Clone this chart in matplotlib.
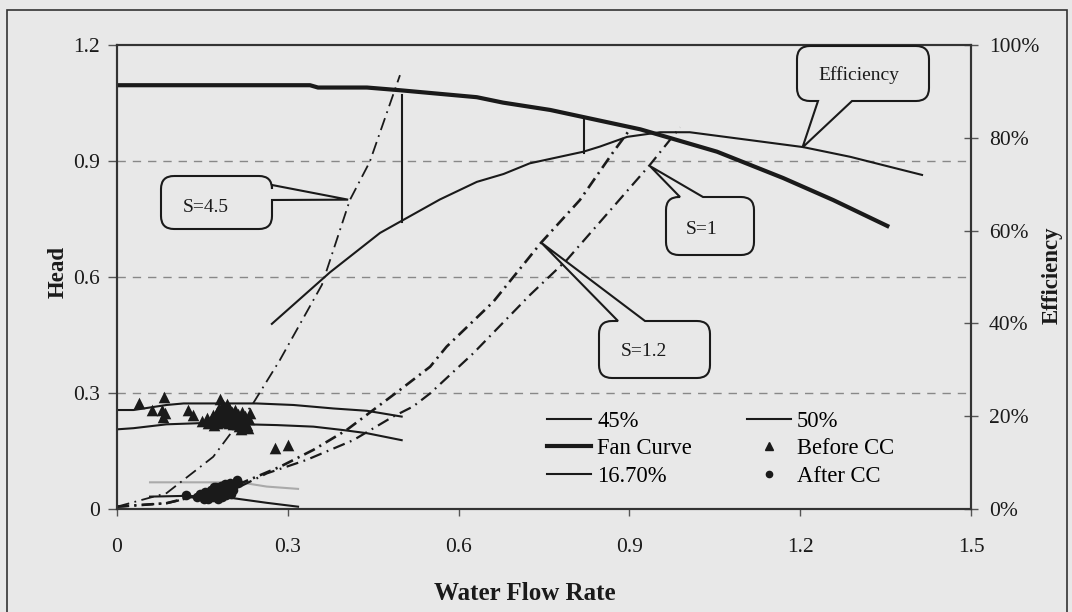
import matplotlib
matplotlib.use("Agg")
import matplotlib.pyplot as plt
from matplotlib.path import Path
from matplotlib.patches import PathPatch, Rectangle
from matplotlib.lines import Line2D
from matplotlib.ticker import FixedLocator, FixedFormatter

plt.rcParams['font.family'] = ['Liberation Serif', 'DejaVu Serif']

# ---- data ----
fan_x = [0, 0.339, 0.353, 0.439, 0.497, 0.632, 0.678, 0.761, 0.919, 0.954, 1.054, 1.170, 1.258, 1.353]
fan_y = [1.096, 1.096, 1.090, 1.090, 1.083, 1.065, 1.051, 1.032, 0.982, 0.967, 0.924, 0.856, 0.799, 0.732]

eff_x = [0.272, 0.374, 0.462, 0.497, 0.567, 0.632, 0.679, 0.725, 0.819, 0.848, 0.896, 0.954, 1.006, 1.112, 1.205, 1.288, 1.346, 1.414]
eff_y = [0.399, 0.51, 0.595, 0.619, 0.667, 0.705, 0.722, 0.745, 0.77, 0.781, 0.802, 0.812, 0.812, 0.795, 0.78, 0.759, 0.741, 0.72]

s45_x = [0, 0.087, 0.169, 0.239, 0.286, 0.36, 0.409, 0.444, 0.497]
s45_y = [0.006, 0.041, 0.135, 0.273, 0.385, 0.58, 0.799, 0.898, 1.122]

s12_x = [0, 0.087, 0.204, 0.286, 0.345, 0.403, 0.497, 0.550, 0.579, 0.661, 0.745, 0.813, 0.872, 0.898]
s12_y = [0.006, 0.015, 0.058, 0.109, 0.153, 0.204, 0.308, 0.368, 0.420, 0.536, 0.689, 0.799, 0.924, 0.976]

s1_x = [0, 0.087, 0.216, 0.263, 0.333, 0.415, 0.485, 0.520, 0.550, 0.626, 0.725, 0.790, 0.872, 0.936, 0.989]
s1_y = [0.006, 0.015, 0.058, 0.092, 0.127, 0.178, 0.239, 0.265, 0.299, 0.403, 0.553, 0.644, 0.782, 0.890, 0.987]

p45_x = [0, 0.029, 0.087, 0.117, 0.245, 0.31, 0.38, 0.439, 0.5]
p45_y = [0.256, 0.256, 0.269, 0.273, 0.273, 0.269, 0.26, 0.254, 0.239]

p50_x = [0, 0.029, 0.087, 0.146, 0.281, 0.345, 0.398, 0.439, 0.5]
p50_y = [0.206, 0.209, 0.219, 0.222, 0.217, 0.213, 0.204, 0.196, 0.178]

p167_x = [0.058, 0.122, 0.204, 0.263, 0.318]
p167_y = [0.032, 0.034, 0.028, 0.016, 0.006]

grey_x = [0.058, 0.216, 0.263, 0.318]
grey_y = [0.069, 0.069, 0.058, 0.052]

vert1_x = [0.5, 0.5]
vert1_y = [1.071, 0.743]
vert2_x = [0.82, 0.82]
vert2_y = [1.010, 0.920]

before_x = [0.039, 0.083, 0.061, 0.079, 0.084, 0.080, 0.125, 0.134, 0.181, 0.278, 0.301,
            0.150, 0.158, 0.165, 0.168, 0.172, 0.175, 0.178, 0.180, 0.182, 0.185, 0.186, 0.188,
            0.190, 0.192, 0.195, 0.197, 0.199, 0.202, 0.204, 0.206, 0.208, 0.210, 0.212, 0.214,
            0.216, 0.218, 0.220, 0.222, 0.225, 0.228, 0.231, 0.233, 0.193, 0.170, 0.160,
            0.176, 0.184, 0.196, 0.203, 0.211, 0.219, 0.226, 0.166, 0.189, 0.207, 0.215, 0.230]
before_y = [0.273, 0.290, 0.256, 0.256, 0.247, 0.239, 0.256, 0.243, 0.284, 0.157, 0.166,
            0.228, 0.235, 0.225, 0.243, 0.232, 0.252, 0.238, 0.262, 0.226, 0.248, 0.270, 0.236,
            0.255, 0.225, 0.244, 0.262, 0.232, 0.250, 0.220, 0.240, 0.256, 0.228, 0.246, 0.214,
            0.236, 0.206, 0.250, 0.226, 0.240, 0.218, 0.232, 0.248, 0.271, 0.218, 0.222,
            0.222, 0.230, 0.222, 0.236, 0.220, 0.228, 0.212, 0.236, 0.246, 0.232, 0.224, 0.210]

after_x = [0.122, 0.140, 0.145, 0.150, 0.155, 0.158, 0.162, 0.165, 0.168, 0.171, 0.174, 0.176,
           0.179, 0.182, 0.184, 0.186, 0.188, 0.190, 0.193, 0.196, 0.199, 0.202, 0.206, 0.210,
           0.213, 0.178, 0.170, 0.200, 0.160, 0.180, 0.192, 0.204, 0.152]
after_y = [0.036, 0.030, 0.040, 0.034, 0.045, 0.028, 0.038, 0.050, 0.032, 0.044, 0.056, 0.036,
           0.048, 0.060, 0.030, 0.042, 0.054, 0.064, 0.046, 0.058, 0.068, 0.052, 0.062, 0.074,
           0.066, 0.026, 0.058, 0.040, 0.026, 0.040, 0.036, 0.048, 0.026]

x_ticks = [0, 0.3, 0.6, 0.9, 1.2, 1.5]
x_labels = ['0', '0.3', '0.6', '0.9', '1.2', '1.5']
y_ticks = [0, 0.3, 0.6, 0.9, 1.2]
y_labels = ['0', '0.3', '0.6', '0.9', '1.2']
r_ticks = [0, 0.2, 0.4, 0.6, 0.8, 1.0]
r_labels = ['0%', '20%', '40%', '60%', '80%', '100%']

BG = '#e8e8e8'
INK = '#1a1a1a'
W, H = 1072, 612

fig = plt.figure(figsize=(W / 100, H / 100), dpi=100, facecolor=BG)
# outer frame
fig.add_artist(Rectangle((7 / W, 1 - 640 / H), 1060 / W, 630 / H, transform=fig.transFigure,
                         fill=False, edgecolor='#333333', lw=1.2))

ax = fig.add_axes([117 / W, 1 - 509 / H, (971 - 117) / W, (509 - 45) / H])
ax.set_facecolor(BG)
ax2 = ax.twinx()

ax.set_xlim(0, 1.5)
ax.set_ylim(0, 1.2)
ax2.set_ylim(0, 1.0)

for yv in [0.3, 0.6, 0.9]:
    ax.axhline(yv, color='#888888', lw=1.0, dashes=(6, 5), zorder=0)

ax.plot(p45_x, p45_y, color=INK, lw=1.5)
ax.plot(p50_x, p50_y, color=INK, lw=1.5)
ax.plot(p167_x, p167_y, color=INK, lw=1.5)
ax.plot(grey_x, grey_y, color='#aaaaaa', lw=1.5)
ax.plot(fan_x, fan_y, color=INK, lw=3.0)
ax.plot(s45_x, s45_y, color=INK, lw=1.3, dashes=(7, 3, 1, 3))
ax.plot(s12_x, s12_y, color=INK, lw=1.9, dashes=(4.5, 2, 0.8, 2))
ax.plot(s1_x, s1_y, color=INK, lw=1.6, dashes=(5.5, 2.5, 0.8, 2.5))
ax.plot(vert1_x, vert1_y, color=INK, lw=1.5)
ax.plot(vert2_x, vert2_y, color=INK, lw=1.5)
ax.scatter(before_x, before_y, marker='^', s=70, color=INK, linewidths=0, zorder=4)
ax.scatter(after_x, after_y, marker='o', s=48, color=INK, linewidths=0, zorder=4)
ax2.plot(eff_x, eff_y, color=INK, lw=1.5)

ax.xaxis.set_major_locator(FixedLocator(x_ticks))
ax.xaxis.set_major_formatter(FixedFormatter(x_labels))
ax.yaxis.set_major_locator(FixedLocator(y_ticks))
ax.yaxis.set_major_formatter(FixedFormatter(y_labels))
ax2.yaxis.set_major_locator(FixedLocator(r_ticks))
ax2.yaxis.set_major_formatter(FixedFormatter(r_labels))

ax.tick_params(axis='x', direction='out', length=5, width=1, color='#555555',
               labelsize=15.5, labelcolor=INK, pad=16)
ax.tick_params(axis='y', direction='out', length=6.5, width=1, color='#555555',
               labelsize=15.5, labelcolor=INK, pad=6)
ax2.tick_params(axis='y', direction='inout', length=10, width=1, color='#555555',
                labelsize=15.5, labelcolor=INK, pad=8)
for a in (ax, ax2):
    for sp in a.spines.values():
        sp.set_color('#333333')
        sp.set_linewidth(1.5)

fig.text(58 / W, 1 - 272 / H, 'Head', rotation=90, ha='center', va='center',
         fontsize=16.5, fontweight='bold', color=INK)
fig.text(1052 / W, 1 - 275 / H, 'Efficiency', rotation=90, ha='center', va='center',
         fontsize=16.5, fontweight='bold', color=INK)
fig.text(525 / W, 1 - 593 / H, 'Water Flow Rate', ha='center', va='center',
         fontsize=18, fontweight='bold', color=INK)

# legend
handles = [
    Line2D([], [], color=INK, lw=1.5),
    Line2D([], [], color=INK, lw=3.0),
    Line2D([], [], color=INK, lw=1.5),
    Line2D([], [], color=INK, lw=1.5),
    Line2D([], [], color=INK, marker='^', ls='none', markersize=6),
    Line2D([], [], color=INK, marker='o', ls='none', markersize=4.5),
]
labels = ['45%', 'Fan Curve', '16.70%', '50%', 'Before CC', 'After CC']
fig.legend(handles, labels, ncol=2, frameon=False, fontsize=16.3,
           loc='upper left', bbox_to_anchor=(547 / W, 1 - 411 / H),
           borderpad=0, borderaxespad=0, handlelength=1.95, handletextpad=0.28,
           columnspacing=2.4, labelspacing=0.28)


# callouts: rounded boxes with a pointer
def to_fig(px, py):
    return px / W, 1 - py / H


def callout(box, side, base, tip, text, text_xy, r=13):
    left, top, right, bottom = box
    tx, ty = fig.transFigure.inverted().transform(ax.transData.transform(tip))
    tx, ty = tx * W, (1 - ty) * H
    pts = []
    codes = []

    def mv(p):
        pts.append(p); codes.append(Path.MOVETO)

    def ln(p):
        pts.append(p); codes.append(Path.LINETO)

    def cv(c, p):
        pts.extend([c, p]); codes.extend([Path.CURVE3, Path.CURVE3])

    mv((left + r, top))
    if side == 'top':
        ln((base[0], top)); ln((tx, ty)); ln((base[1], top))
    ln((right - r, top)); cv((right, top), (right, top + r))
    if side == 'right':
        ln((right, base[0])); ln((tx, ty)); ln((right, base[1]))
    ln((right, bottom - r)); cv((right, bottom), (right - r, bottom))
    if side == 'bottom':
        ln((base[1], bottom)); ln((tx, ty)); ln((base[0], bottom))
    ln((left + r, bottom)); cv((left, bottom), (left, bottom - r))
    ln((left, top + r)); cv((left, top), (left + r, top))
    verts = [to_fig(*p) for p in pts]
    fig.add_artist(PathPatch(Path(verts, codes), transform=fig.transFigure,
                             facecolor=BG, edgecolor=INK, lw=1.5, zorder=5))
    fig.text(*to_fig(*text_xy), text, ha='center', va='center', fontsize=14,
             color=INK, zorder=6)


callout((161, 176, 272, 229), 'right', (185, 200), (0.406, 0.80), 'S=4.5', (206, 207))
callout((797, 46, 929, 101), 'bottom', (818, 852), (1.204, 0.935), 'Efficiency', (859, 75))
callout((666, 197, 754, 255), 'top', (680, 703), (0.936, 0.887), 'S=1', (702, 230))
callout((599, 321, 710, 378), 'top', (618, 645), (0.745, 0.689), 'S=1.2', (644, 352))

fig.savefig('out.png', dpi=100, facecolor=BG)
